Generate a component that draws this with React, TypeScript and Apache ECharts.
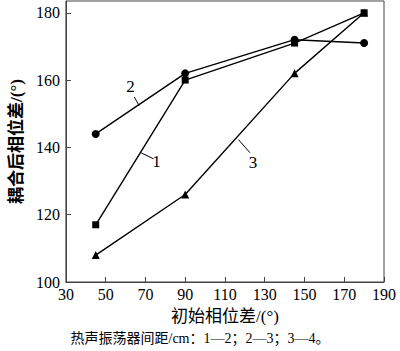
import React, { useEffect, useRef } from "react";
import * as echarts from "echarts";

const xValues = [45, 90, 145, 180];
const series1 = [117, 160, 171, 180];
const series2 = [144, 162, 172, 171];
const series3 = [108, 126, 162, 180];
const xTicks = [30, 50, 70, 90, 110, 130, 150, 170, 190];
const yTicks = [100, 120, 140, 160, 180];
const labels = ["1", "2", "3"];
// annotation positions in data coordinates: text centre, leader start, leader end
const labelPos: number[][] = [
  [75.6, 135.7, 67.8, 138.4, 74.1, 136.6],
  [62.5, 158.0, 64.4, 155.0, 66.8, 152.4],
  [124.1, 135.4, 116.8, 142.3, 122.6, 138.4],
];

const serif = "'Liberation Serif', 'Times New Roman', 'Noto Sans CJK SC', serif";
const cjk = "'Liberation Serif', 'Noto Sans CJK SC', serif";

export default function App() {
  const ref = useRef<HTMLDivElement>(null);
  useEffect(() => {
    if (!ref.current) return;
    const chart = echarts.init(ref.current, null, { renderer: "svg" });
    const mk = (vals: number[], symbol: string, size: number) => ({
      type: "line",
      data: xValues.map((x, i) => [x, vals[i]]),
      symbol,
      symbolSize: size,
      showSymbol: true,
      lineStyle: { color: "#000", width: 1.4 },
      itemStyle: { color: "#000" },
    });
    chart.setOption({
      animation: false,
      backgroundColor: "#fff",
      grid: {
        left: 54,
        right: 16,
        top: 1,
        bottom: 69,
        show: true,
        borderColor: "#444",
        borderWidth: 1,
      },
      xAxis: {
        type: "value",
        min: 30,
        max: 190,
        interval: 20,
        axisLine: { show: true, lineStyle: { color: "#444", width: 1 } },
        axisTick: { show: true, inside: true, length: 5, lineStyle: { color: "#444" } },
        splitLine: { show: false },
        axisLabel: {
          color: "#000",
          fontFamily: serif,
          fontSize: 16,
          margin: 4,
          customValues: xTicks,
        },
        name: "初始相位差/(°)",
        nameLocation: "middle",
        nameGap: 26,
        nameTextStyle: { color: "#000", fontFamily: cjk, fontSize: 17 },
      },
      yAxis: {
        type: "value",
        min: 100,
        max: 183.5,
        interval: 20,
        axisLine: { show: true, lineStyle: { color: "#444", width: 1 } },
        axisTick: { show: true, inside: true, length: 5, lineStyle: { color: "#444" }, customValues: yTicks },
        splitLine: { show: false },
        axisLabel: {
          color: "#000",
          fontFamily: serif,
          fontSize: 16,
          margin: 6,
          customValues: yTicks,
        },
        name: "耦合后相位差/(°)",
        nameLocation: "middle",
        nameGap: 38,
        nameRotate: 90,
        nameTextStyle: { color: "#000", fontFamily: cjk, fontSize: 17, fontWeight: "bold" },
      },
      series: [
        mk(series1, "rect", 7),
        mk(series2, "circle", 8),
        mk(series3, "triangle", 8),
      ],
    });
    const g: any[] = [];
    labels.forEach((t, i) => {
      const p = labelPos[i];
      const c = chart.convertToPixel({ gridIndex: 0 }, [p[0], p[1]]);
      const a = chart.convertToPixel({ gridIndex: 0 }, [p[2], p[3]]);
      const b = chart.convertToPixel({ gridIndex: 0 }, [p[4], p[5]]);
      g.push({
        type: "text",
        x: c[0],
        y: c[1],
        style: { text: t, fontFamily: serif, fontSize: 17, fill: "#000", align: "center", verticalAlign: "middle" },
      });
      g.push({
        type: "line",
        shape: { x1: a[0], y1: a[1], x2: b[0], y2: b[1] },
        style: { stroke: "#000", lineWidth: 1 },
      });
    });
    g.push({
      type: "text",
      left: "center",
      top: 331,
      style: {
        text: "热声振荡器间距/cm：1—2；2—3；3—4。",
        fontFamily: cjk,
        fontSize: 14,
        fill: "#000",
      },
    });
    chart.setOption({ graphic: g });
    return () => chart.dispose();
  }, []);
  return (
    <div
      ref={ref}
      style={{ position: "absolute", left: 0, top: 0, width: 400, height: 351 }}
    />
  );
}
